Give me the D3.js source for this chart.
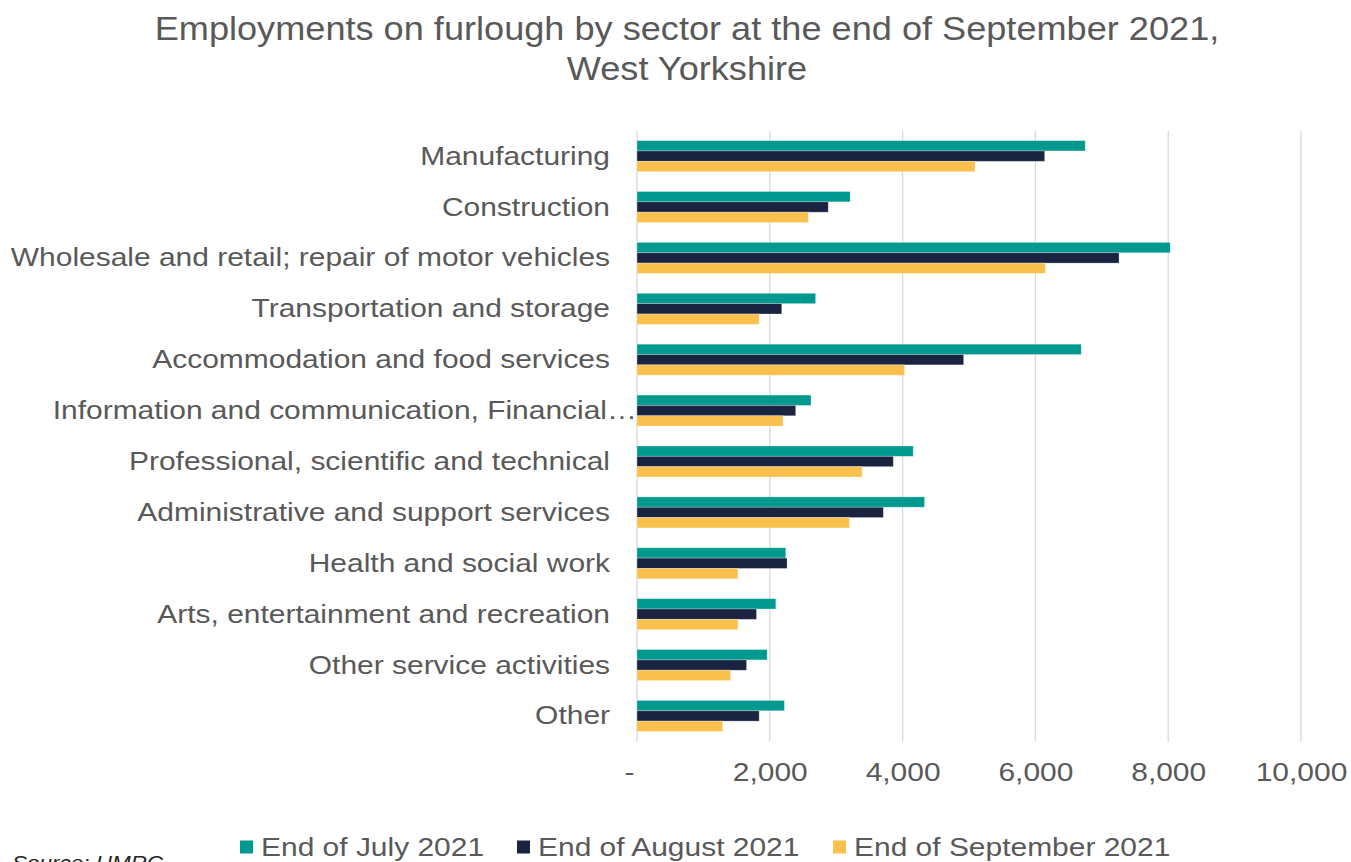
<!DOCTYPE html>
<html>
<head>
<meta charset="utf-8">
<script src="https://cdn.jsdelivr.net/npm/d3@7"></script>
<style>
  html, body { margin: 0; padding: 0; background: #fff; }
  svg { display: block; font-family: "Liberation Sans", Arial, sans-serif; }
</style>
</head>
<body>
<svg id="chart" width="1351" height="862"></svg>
<script>
// Furloughed employments by sector, West Yorkshire (source: HMRC)
const sectors = [
  "Manufacturing",
  "Construction",
  "Wholesale and retail; repair of motor vehicles",
  "Transportation and storage",
  "Accommodation and food services",
  "Information and communication, Financial…",
  "Professional, scientific and technical",
  "Administrative and support services",
  "Health and social work",
  "Arts, entertainment and recreation",
  "Other service activities",
  "Other"
];
const seriesNames = ["End of July 2021", "End of August 2021", "End of September 2021"];
const july   = [6750, 3210, 8030, 2690, 6690, 2620, 4160, 4330, 2240, 2090, 1960, 2220];
const august = [6140, 2880, 7260, 2180, 4920, 2390, 3860, 3710, 2260, 1800, 1650, 1840];
const sept   = [5090, 2580, 6150, 1840, 4030, 2200, 3390, 3200, 1520, 1520, 1410, 1290];
const xTicks = [0, 2000, 4000, 6000, 8000, 10000];
const colors = ["#00998F", "#1A2440", "#FAC04E"];

const seriesValues = [july, august, sept];
const svg = d3.select("#chart");
const textColor = "#595959";
const WIDE = 1.13;   // text is set slightly wide

// widen a text node horizontally without changing its height
function widen(node, factor) {
  const len = node.getComputedTextLength();
  d3.select(node).attr("textLength", len * factor).attr("lengthAdjust", "spacingAndGlyphs");
  return len;
}

const x = d3.scaleLinear().domain([0, 10000]).range([637, 1301]);
const y = d3.scaleBand().domain(sectors).range([130.7, 741.4])
  .paddingInner(0.39).paddingOuter(0.195);
const ySub = d3.scaleBand().domain(seriesNames).range([0, y.bandwidth()]);

// Title
const title = svg.append("text")
  .attr("x", 687).attr("text-anchor", "middle")
  .attr("fill", textColor).attr("font-size", 33);
title.append("tspan").attr("x", 687).attr("y", 40)
  .text("Employments on furlough by sector at the end of September 2021,");
title.append("tspan").attr("x", 687).attr("y", 80).text("West Yorkshire");
title.selectAll("tspan").each(function() { widen(this, 1.095); });

// Vertical gridlines
svg.append("g").selectAll("line").data(xTicks).join("line")
  .attr("x1", d => x(d)).attr("x2", d => x(d))
  .attr("y1", 130.7).attr("y2", 741.4)
  .attr("stroke", "#d9d9d9").attr("stroke-width", 1.3);

// Bars
const groups = svg.append("g").selectAll("g").data(sectors).join("g")
  .attr("transform", d => `translate(0,${y(d)})`);
groups.selectAll("rect")
  .data((d, i) => seriesNames.map((s, k) => ({ s, k, v: seriesValues[k][i] })))
  .join("rect")
  .attr("x", x(0))
  .attr("y", d => ySub(d.s))
  .attr("width", d => x(d.v) - x(0))
  .attr("height", ySub.bandwidth())
  .attr("fill", d => colors[d.k])
  .attr("stroke", "rgba(255,255,255,0.35)")
  .attr("stroke-width", 0.8);

// Category labels
const xAxisBottom = d3.axisBottom(x).tickValues(xTicks)
  .tickFormat(d => d === 0 ? "-" : d3.format(",")(d)).tickSize(0).tickPadding(0);
const yAxis = d3.axisLeft(y).tickSize(0).tickPadding(27);
const gy = svg.append("g").attr("transform", `translate(${x(0)},0)`).call(yAxis);
gy.select(".domain").remove();
gy.selectAll("text")
  .attr("fill", textColor).attr("font-size", 26.5)
  .attr("font-family", "\"Liberation Sans\", Arial, sans-serif")
  .each(function(d) {
    const sel = d3.select(this);
    if (d.endsWith("…")) {
      // let the trailing ellipsis hang past the label edge
      sel.text(d.slice(0, -1));
      const part = this.getComputedTextLength();
      sel.text(d);
      const full = widen(this, WIDE);
      sel.attr("dx", (full - part) * WIDE - 3);
    } else {
      widen(this, WIDE);
    }
  });

// Value axis labels
const gx = svg.append("g").attr("transform", "translate(0,762)").call(xAxisBottom);
gx.select(".domain").remove();
gx.selectAll("text")
  .attr("fill", textColor).attr("font-size", 26.5)
  .attr("font-family", "\"Liberation Sans\", Arial, sans-serif")
  .attr("dy", "0.71em")
  .attr("dx", d => d === 0 ? -8 : 0)
  .each(function() { widen(this, WIDE); });

// Legend
const legendX = [240, 517, 833];
const legend = svg.append("g").selectAll("g").data(seriesNames).join("g")
  .attr("transform", (d, i) => `translate(${legendX[i]},847)`);
legend.append("rect").attr("x", 0).attr("y", -6.5).attr("width", 13).attr("height", 13)
  .attr("fill", (d, i) => colors[i]);
legend.append("text").attr("x", 21).attr("y", 0).attr("dy", "0.35em")
  .attr("fill", textColor).attr("font-size", 26.5).text(d => d)
  .each(function() { widen(this, WIDE); });

// Source note
svg.append("text").attr("x", 12).attr("y", 870)
  .attr("font-size", 21).attr("font-style", "italic").attr("fill", "#262626")
  .text("Source: HMRC")
  .each(function() { widen(this, 1.07); });
</script>
</body>
</html>
